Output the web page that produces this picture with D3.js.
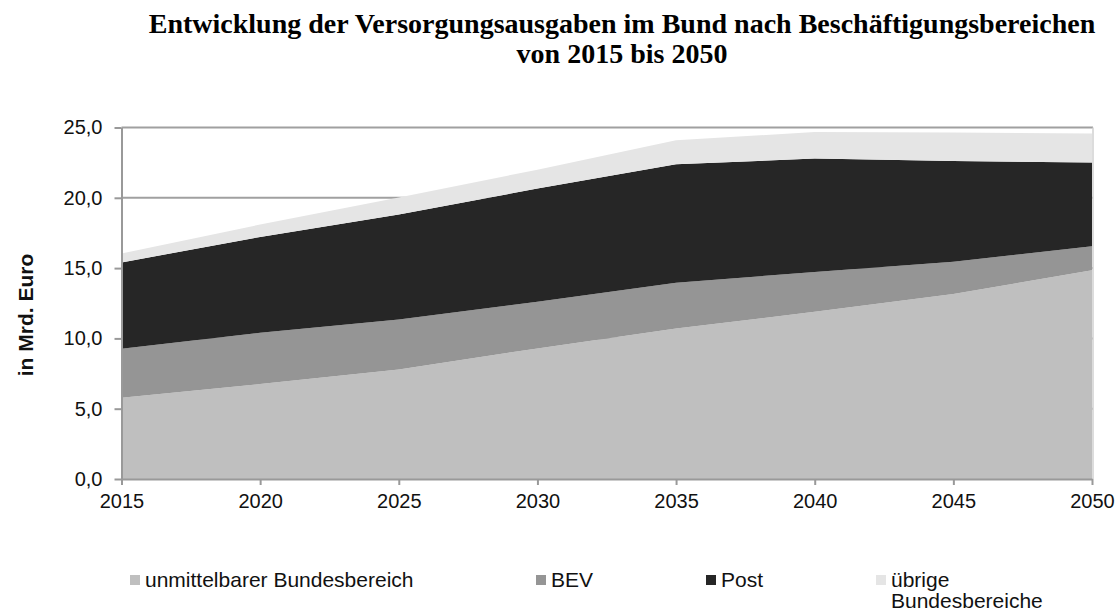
<!DOCTYPE html>
<html><head><meta charset="utf-8">
<script src="https://cdn.jsdelivr.net/npm/d3@7"></script>
<style>
html,body{margin:0;padding:0;background:#fff;}
svg{display:block;}
</style></head>
<body>
<svg id="chart" width="1116" height="611"></svg>
<script>
const years = [2015, 2020, 2025, 2030, 2035, 2040, 2045, 2050];
const unmittelbar = [5.78, 6.75, 7.79, 9.29, 10.71, 11.89, 13.15, 14.85];
const bev = [3.48, 3.65, 3.56, 3.31, 3.24, 2.84, 2.30, 1.71];
const post = [6.14, 6.82, 7.46, 8.06, 8.44, 8.06, 7.17, 5.95];
const uebrige = [0.64, 0.88, 1.21, 1.34, 1.70, 1.89, 2.02, 2.06];
const seriesNames = ["unmittelbarer Bundesbereich", "BEV", "Post", "übrige Bundesbereiche"];
const seriesColors = ["#bfbfbf", "#959595", "#262626", "#e5e5e5"];
const yTicks = [0, 5, 10, 15, 20, 25];
const titleLines = ["Entwicklung der Versorgungsausgaben im Bund nach Beschäftigungsbereichen", "von 2015 bis 2050"];
const yLabel = "in Mrd. Euro";

const svg = d3.select("#chart");
const x = d3.scaleLinear().domain([2015, 2050]).range([121.5, 1092]);
const y = d3.scaleLinear().domain([0, 25]).range([479, 127.5]);

const keys = ["u", "b", "p", "o"];
const table = years.map((yr, i) => ({year: yr, u: unmittelbar[i], b: bev[i], p: post[i], o: uebrige[i]}));
const stacked = d3.stack().keys(keys)(table);

// gridlines
svg.append("g").selectAll("line").data(yTicks.filter(d => d > 0)).join("line")
  .attr("x1", x(2015)).attr("x2", x(2050)+1)
  .attr("y1", d => y(d)).attr("y2", d => y(d))
  .attr("stroke", "#a0a0a0").attr("stroke-width", 2);
// right border
svg.append("line").attr("x1", x(2050)+1).attr("x2", x(2050)+1).attr("y1", y(25)).attr("y2", y(0))
  .attr("stroke", "#d0d0d0").attr("stroke-width", 1.5);

const area = d3.area().x(d => x(d.data.year)).y0(d => y(d[0])).y1(d => y(d[1]));
svg.append("g").selectAll("path").data(stacked).join("path")
  .attr("d", area).attr("fill", (d, i) => seriesColors[i]);

const fmt = v => d3.format(".1f")(v).replace(".", ",");

const yAxis = svg.append("g").attr("transform", `translate(${x(2015)},0)`)
  .call(d3.axisLeft(y).tickValues(yTicks).tickFormat(fmt).tickSize(7).tickSizeOuter(0).tickPadding(12));
const xAxis = svg.append("g").attr("transform", `translate(0,${y(0)})`)
  .call(d3.axisBottom(x).tickValues(years).tickFormat(d3.format("d")).tickSize(6).tickSizeOuter(0).tickPadding(9));
[yAxis, xAxis].forEach(g => {
  g.select(".domain").attr("stroke", "#999").attr("stroke-width", 2);
  g.selectAll(".tick line").attr("stroke", "#999").attr("stroke-width", 2);
  g.selectAll(".tick text").attr("fill", "#111").style("font-family", "'Liberation Sans', Arial, sans-serif").style("font-size", "20px");
});
xAxis.selectAll(".tick text").attr("dy", "0.71em");

// title
svg.append("g").selectAll("text").data(titleLines).join("text")
  .attr("x", 622).attr("y", (d, i) => 33 + i * 30)
  .attr("text-anchor", "middle")
  .style("font-family", "'Liberation Serif', 'Times New Roman', serif")
  .style("font-weight", "bold").style("font-size", "28px").attr("fill", "#000")
  .text(d => d);

// y label
svg.append("text").attr("transform", "translate(33,315) rotate(-90)")
  .attr("text-anchor", "middle")
  .style("font-family", "'Liberation Sans', Arial, sans-serif")
  .style("font-weight", "bold").style("font-size", "21px").attr("fill", "#111")
  .text(yLabel);

// legend
const legendX = [130, 536, 706, 876];
const lg = svg.append("g").selectAll("g").data(seriesNames).join("g")
  .attr("transform", (d, i) => `translate(${legendX[i]},575)`);
lg.append("rect").attr("width", 10).attr("height", 10).attr("fill", (d, i) => seriesColors[i]);
lg.each(function(d) {
  const t = d3.select(this).append("text").attr("x", 15).attr("y", 12)
    .style("font-family", "'Liberation Sans', Arial, sans-serif").style("font-size", "21px").attr("fill", "#111");
  const parts = d === "übrige Bundesbereiche" ? ["übrige", "Bundesbereiche"] : [d];
  parts.forEach((p, j) => t.append("tspan").attr("x", 15).attr("dy", j === 0 ? 0 : 21).text(p));
});
</script>
</body></html>
